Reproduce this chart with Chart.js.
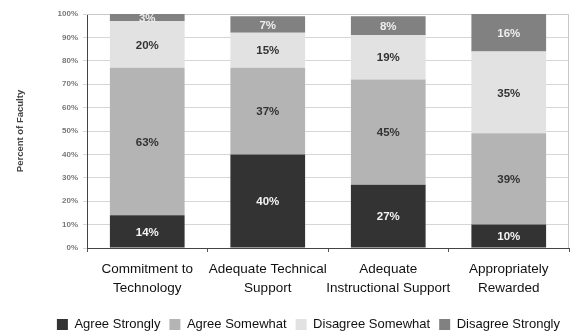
<!DOCTYPE html>
<html lang="en">
<head>
  <meta charset="UTF-8">
  <title>Faculty Survey</title>
  <script src="https://cdn.jsdelivr.net/npm/chart.js"></script>
  <style>
    html, body { margin: 0; padding: 0; background: #fff; }
    #wrap { width: 573px; height: 332px; }
  </style>
</head>
<body>
  <div id="wrap"><canvas id="chart" width="573" height="332"></canvas></div>

  <script>
    const categories = [
      ['Commitment to', 'Technology'],
      ['Adequate Technical', 'Support'],
      ['Adequate', 'Instructional Support'],
      ['Appropriately', 'Rewarded']
    ];
    const agreeStrongly = [14, 40, 27, 10];
    const agreeSomewhat = [63, 37, 45, 39];
    const disagreeSomewhat = [20, 15, 19, 35];
    const disagreeStrongly = [3, 7, 8, 16];

    const seriesNames = ['Agree Strongly', 'Agree Somewhat', 'Disagree Somewhat', 'Disagree Strongly'];
    const seriesColors = ['#333333', '#b4b4b4', '#e2e2e2', '#818181'];
    const labelColors = ['#f4f4f4', '#333333', '#333333', '#eeeeee'];

    const FONT = '"Liberation Sans", Arial, sans-serif';

    // percentage text in the middle of each segment
    const segmentLabels = {
      id: 'segmentLabels',
      afterDatasetsDraw(chart) {
        const ctx = chart.ctx;
        ctx.save();
        ctx.font = 'bold 11.5px ' + FONT;
        ctx.textAlign = 'center';
        ctx.textBaseline = 'middle';
        chart.data.datasets.forEach((ds, i) => {
          chart.getDatasetMeta(i).data.forEach((bar, j) => {
            const mid = (bar.y + bar.base) / 2;
            ctx.fillStyle = labelColors[i];
            ctx.fillText(ds.data[j] + '%', bar.x, mid + 1);
          });
        });
        ctx.restore();
      }
    };

    // thin grey frame around the plot
    const plotFrame = {
      id: 'plotFrame',
      beforeDatasetsDraw(chart) {
        const { ctx, chartArea: a } = chart;
        ctx.save();
        ctx.strokeStyle = '#c8c8c8';
        ctx.lineWidth = 1;
        ctx.beginPath();
        ctx.moveTo(a.left, a.top + 0.5);
        ctx.lineTo(a.right - 0.5, a.top + 0.5);
        ctx.lineTo(a.right - 0.5, a.bottom);
        ctx.stroke();
        ctx.restore();
      }
    };

    const datasets = [agreeStrongly, agreeSomewhat, disagreeSomewhat, disagreeStrongly].map((vals, i) => ({
      label: seriesNames[i],
      data: vals,
      backgroundColor: seriesColors[i],
      borderWidth: 0,
      categoryPercentage: 0.62,
      barPercentage: 1
    }));

    new Chart(document.getElementById('chart'), {
      type: 'bar',
      data: { labels: categories, datasets: datasets },
      plugins: [segmentLabels, plotFrame],
      options: {
        responsive: false,
        animation: false,
        layout: { padding: { left: 6, right: 4, top: 14, bottom: -9 } },
        plugins: {
          tooltip: { enabled: false },
          legend: {
            position: 'bottom',
            align: 'end',
            labels: {
              boxWidth: 11,
              boxHeight: 11,
              padding: 9,
              color: '#111',
              font: { family: FONT, size: 13 }
            }
          }
        },
        scales: {
          x: {
            stacked: true,
            grid: { drawOnChartArea: false, color: '#555', tickLength: 4, offset: true },
            border: { color: '#444', width: 1 },
            ticks: {
              autoSkip: false,
              color: '#111',
              padding: 8,
              maxRotation: 0,
              font: { family: FONT, size: 13.5, lineHeight: 1.4 }
            },
            afterFit(scale) { scale.height = 61; }
          },
          y: {
            stacked: true,
            min: 0,
            max: 100,
            grid: { color: '#d6d6d6', tickLength: 4 },
            border: { color: '#444', width: 1 },
            ticks: {
              stepSize: 10,
              color: '#777',
              padding: 5,
              font: { family: FONT, size: 8, weight: 'bold' },
              callback: v => v + '%'
            },
            title: {
              display: true,
              text: 'Percent of Faculty',
              color: '#444',
              padding: { top: 9, bottom: 0 },
              font: { family: FONT, size: 9.5, weight: 'bold' }
            },
            afterFit(scale) { scale.width = 81; }
          }
        }
      }
    });
  </script>
</body>
</html>
